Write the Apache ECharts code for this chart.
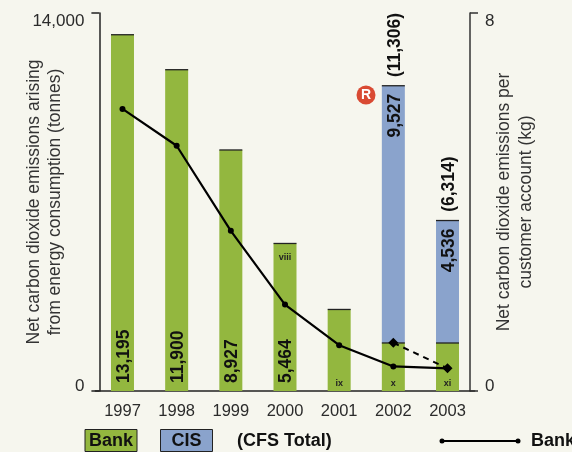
<!DOCTYPE html>
<html><head><meta charset="utf-8">
<style>html,body{margin:0;padding:0;background:#f6f6ee}#c{width:572px;height:452px}</style>
<script src="https://cdn.jsdelivr.net/npm/echarts@6/dist/echarts.min.js"></script>
</head><body><div id="c"></div>
<script>
const years = ['1997','1998','1999','2000','2001','2002','2003'];
const bank = [13195,11900,8927,5464,3020,1779,1778];
const cis = [null,null,null,null,null,9527,4536];
const totals = [null,null,null,null,null,11306,6314];
const bankLabels = ['13,195','11,900','8,927','5,464','','',''];
const footnotesBottom = ['','','','','ix','x','xi'];
const footnotesTop = ['','','','viii','','',''];
const cisLabels = ['','','','','','9,527','4,536'];
const totalLabels = ['','','','','','(11,306)','(6,314)'];
const perAccount = [5.97,5.19,3.39,1.83,0.97,0.52,0.48];
const perAccountDashed = [null,null,null,null,null,1.02,0.48];

const FONT = '"Liberation Sans", Arial, sans-serif';
const GREEN = '#93b73f', BLUE = '#8aa3cc', TEXT = '#2b2b2b';
const big = {show:true,rotate:90,fontFamily:FONT,fontWeight:'bold',fontSize:17.5,color:'#111',verticalAlign:'middle',offset:[0,1.5]};
const small = {show:true,fontFamily:FONT,fontWeight:'bold',fontSize:9,color:'#222'};
const tickLabel = {fontFamily:FONT,fontSize:17,color:TEXT,margin:15,lineHeight:10,padding:[3,0,0,0],verticalAlignMaxLabel:'top',verticalAlignMinLabel:'bottom'};

const chart = echarts.init(document.getElementById('c'),null,{renderer:'canvas'});
chart.setOption({
  animation:false,
  backgroundColor:'#f6f6ee',
  grid:{left:95.4,width:379.2,top:13,height:378,containLabel:false,outerBoundsMode:'none'},
  xAxis:{type:'category',data:years,
    axisLine:{lineStyle:{color:'#222',width:1.5}},axisTick:{show:false},
    axisLabel:{fontFamily:FONT,fontSize:16.5,color:TEXT,margin:12,interval:0}},
  yAxis:[
   {type:'value',min:0,max:14000,interval:14000,position:'left',offset:-4,splitLine:{show:false},
    axisLine:{show:true,onZero:false,lineStyle:{color:'#222',width:1.5}},
    axisTick:{show:true,length:8,lineStyle:{color:'#222',width:1.5}},
    axisLabel:tickLabel,
    name:'Net carbon dioxide emissions arising\nfrom energy consumption (tonnes)',
    nameLocation:'middle',nameRotate:90,nameGap:34,nameMoveOverlap:false,
    nameTextStyle:{fontFamily:FONT,fontSize:17.5,color:'#333',lineHeight:21}},
   {type:'value',min:0,max:8,interval:8,position:'right',offset:-4.6,splitLine:{show:false},
    axisLine:{show:true,onZero:false,lineStyle:{color:'#333',width:1.5}},
    axisTick:{show:true,length:8,lineStyle:{color:'#333',width:1.5}},
    axisLabel:tickLabel,
    name:'Net carbon dioxide emissions per\ncustomer account (kg)',
    nameLocation:'middle',nameRotate:90,nameGap:23,nameMoveOverlap:false,
    nameTextStyle:{fontFamily:FONT,fontSize:17.5,color:'#333',lineHeight:22}}
  ],
  series:[
   {name:'Bank',type:'bar',stack:'t',barWidth:23,itemStyle:{color:GREEN},
    data:bank.map((v,i)=>({value:v,label: bankLabels[i]
      ? {...big,position:'insideBottom',align:'left',distance:8,formatter:bankLabels[i]}
      : (footnotesBottom[i] ? {...small,position:'insideBottom',distance:3,formatter:footnotesBottom[i]} : {show:false})}))},
   {name:'CIS',type:'bar',stack:'t',barWidth:23,itemStyle:{color:BLUE},
    data:cis.map((v,i)=>({value:v,label: cisLabels[i]
      ? {...big,position:'insideTop',align:'right',distance:8,formatter:cisLabels[i]}:{show:false}}))},
   {name:'Bank top',type:'scatter',symbol:'rect',symbolSize:[23,1.3],z:4,clip:false,itemStyle:{color:'#222',opacity:1},
    data:bank.map((v,i)=>({value:v,label: footnotesTop[i]
      ? {...small,position:'bottom',distance:9,formatter:footnotesTop[i]}:{show:false}}))},
   {name:'CFS Total',type:'scatter',symbol:'rect',symbolSize:[23,1.3],z:4,clip:false,itemStyle:{color:'#222',opacity:1},
    data:totals.map((v,i)=>({value:v,label: totalLabels[i]
      ? {...big,position:'top',align:'left',distance:8,formatter:totalLabels[i]}:{show:false}}))},
   {name:'Bank per account',type:'line',yAxisIndex:1,z:6,symbol:'circle',symbolSize:6,showSymbol:true,
    lineStyle:{color:'#000',width:2.2},itemStyle:{color:'#000'},data:perAccount},
   {name:'CFS per account',type:'line',yAxisIndex:1,z:5,symbol:'diamond',symbolSize:10,
    lineStyle:{color:'#000',width:2,type:[6,5]},itemStyle:{color:'#000'},data:perAccountDashed}
  ],
  graphic:[
   {type:'circle',shape:{cx:366,cy:95,r:9.5},style:{fill:'#d94a33'}},
   {type:'text',x:366,y:95,style:{text:'R',fill:'#fff',font:'bold 14px '+FONT,align:'center',verticalAlign:'middle'}},
   {type:'rect',shape:{x:85,y:429.5,width:52,height:22},style:{fill:GREEN,stroke:'#222',lineWidth:1}},
   {type:'text',x:111,y:441,style:{text:'Bank',fill:'#111',font:'bold 18px '+FONT,align:'center',verticalAlign:'middle'}},
   {type:'rect',shape:{x:160.5,y:429.5,width:52,height:22},style:{fill:BLUE,stroke:'#222',lineWidth:1}},
   {type:'text',x:186.5,y:441,style:{text:'CIS',fill:'#111',font:'bold 18px '+FONT,align:'center',verticalAlign:'middle'}},
   {type:'text',x:237,y:441,style:{text:'(CFS Total)',fill:'#111',font:'bold 18px '+FONT,align:'left',verticalAlign:'middle'}},
   {type:'line',shape:{x1:442,y1:441,x2:518,y2:441},style:{stroke:'#000',lineWidth:2}},
   {type:'circle',shape:{cx:442,cy:441,r:2.5},style:{fill:'#000'}},
   {type:'circle',shape:{cx:518,cy:441,r:2.5},style:{fill:'#000'}},
   {type:'text',x:531,y:441,style:{text:'Bank',fill:'#111',font:'bold 18px '+FONT,align:'left',verticalAlign:'middle'}}
  ]
});
</script></body></html>
